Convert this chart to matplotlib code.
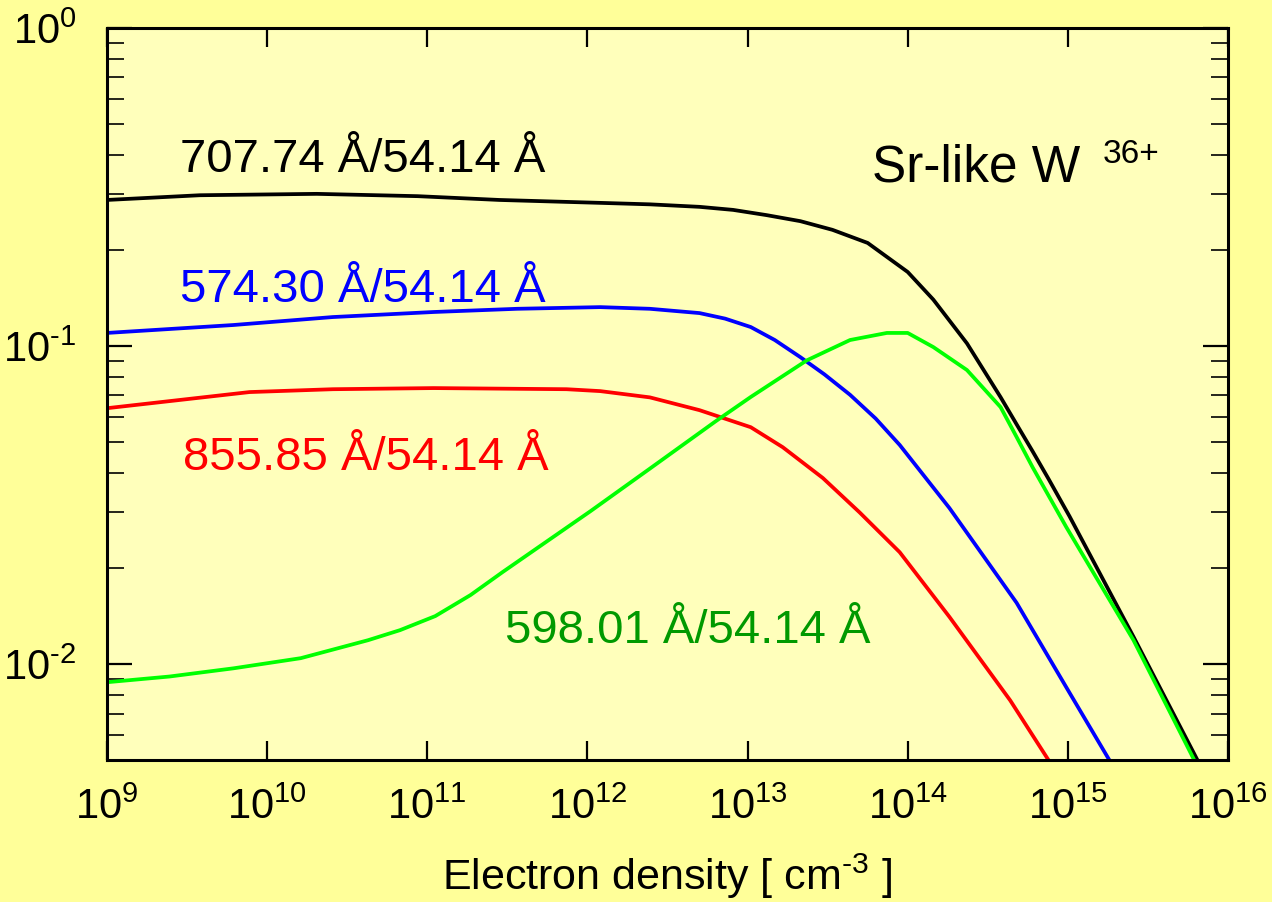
import matplotlib
matplotlib.use("Agg")
import matplotlib.pyplot as plt
import numpy as np
from matplotlib.ticker import FixedLocator, FuncFormatter, NullFormatter, NullLocator

plt.rcParams["font.family"] = ["Liberation Sans", "DejaVu Sans"]
plt.rcParams["mathtext.fontset"] = "custom"
plt.rcParams["mathtext.rm"] = "Liberation Sans"
plt.rcParams["mathtext.it"] = "Liberation Sans:italic"
plt.rcParams["mathtext.bf"] = "Liberation Sans:bold"

# log10 of electron density [cm^-3] and line-intensity ratios
black_logne = [9.00, 9.58, 10.31, 10.94, 11.45, 12.08, 12.39, 12.70, 12.91, 13.12, 13.33,
               13.53, 13.75, 14.00, 14.16, 14.37, 14.58, 14.70, 14.78, 14.88, 15.01, 15.41, 15.81]
black_ratio = [0.288, 0.298, 0.301, 0.296, 0.288, 0.282, 0.279, 0.274, 0.268, 0.258, 0.247,
               0.232, 0.211, 0.171, 0.140, 0.102, 0.0691, 0.0546, 0.0467, 0.0382, 0.0292, 0.0122, 0.00499]

blue_logne = [9.00, 9.79, 10.41, 11.04, 11.56, 12.08, 12.39, 12.70, 12.86, 13.02, 13.17,
              13.33, 13.48, 13.64, 13.80, 13.95, 14.26, 14.68, 14.99, 15.26]
blue_ratio = [0.110, 0.1165, 0.1234, 0.128, 0.131, 0.1326, 0.131, 0.127, 0.122, 0.1148, 0.1045,
              0.0923, 0.0815, 0.0703, 0.0592, 0.0489, 0.0310, 0.0156, 0.00847, 0.00499]

red_logne = [9.00, 9.89, 10.41, 11.04, 11.87, 12.08, 12.39, 12.70, 13.02, 13.22, 13.47,
             13.70, 13.95, 14.26, 14.64, 14.88]
red_ratio = [0.0638, 0.0717, 0.0732, 0.0738, 0.0732, 0.0722, 0.0690, 0.0629, 0.0556, 0.0481, 0.0385,
             0.0300, 0.0225, 0.0141, 0.0077, 0.00499]

green_logne = [9.00, 9.39, 9.79, 10.21, 10.63, 10.83, 11.05, 11.27, 11.47, 11.74, 12.02,
               12.39, 12.80, 13.02, 13.37, 13.64, 13.87, 14.00, 14.16, 14.37, 14.58, 14.68,
               14.78, 14.99, 15.41, 15.79]
green_ratio = [0.00878, 0.00915, 0.00971, 0.01045, 0.0119, 0.0128, 0.01417, 0.0165, 0.01948, 0.0242, 0.0303,
               0.0412, 0.0580, 0.0692, 0.0902, 0.1045, 0.110, 0.110, 0.0993, 0.0841, 0.0643, 0.0518,
               0.0416, 0.0270, 0.0119, 0.00499]

series = [
    (black_logne, black_ratio, "black", "707.74 Å/54.14 Å", "black", (0.065, 0.803)),
    (blue_logne, blue_ratio, "#0000FF", "574.30 Å/54.14 Å", "#0000FF", (0.065, 0.626)),
    (red_logne, red_ratio, "#FF0000", "855.85 Å/54.14 Å", "#FF0000", (0.068, 0.396)),
    (green_logne, green_ratio, "#00FF00", "598.01 Å/54.14 Å", "#009900", (0.355, 0.160)),
]

x_decades = [9, 10, 11, 12, 13, 14, 15, 16]
y_decades = [-2, -1, 0]


def power_label(value, pos):
    return r"$10^{\text{%d}}$" % int(round(np.log10(value)))


fig = plt.figure(figsize=(12.72, 9.02), dpi=100, facecolor="#FFFF99")
ax = fig.add_axes([0.0841, 0.1574, 0.8813, 0.8116])
ax.set_facecolor("#FFFFBB")

for logne, ratio, color, label, text_color, pos in series:
    ax.plot(10 ** np.array(logne), ratio, color=color, linewidth=2.7,
            solid_joinstyle="round")
    ax.text(pos[0], pos[1], label, color=text_color, fontsize=34,
            transform=ax.transAxes, va="baseline", ha="left")

ax.text(0.682, 0.790, "Sr-like W", fontsize=37, transform=ax.transAxes, va="baseline")
ax.text(0.888, 0.816, "36+", fontsize=24, transform=ax.transAxes, va="baseline")

ax.set_xscale("log")
ax.set_yscale("log")
ax.set_xlim(1e9, 1e16)
ax.set_ylim(0.005, 1.0)

ax.xaxis.set_major_locator(FixedLocator([10.0 ** d for d in x_decades]))
ax.xaxis.set_minor_locator(NullLocator())
ax.xaxis.set_major_formatter(FuncFormatter(power_label))
ax.yaxis.set_major_locator(FixedLocator([10.0 ** d for d in y_decades]))
minor_y = [k * 10.0 ** d for d in [-3, -2, -1] for k in range(2, 10) if k * 10.0 ** d >= 0.005]
ax.yaxis.set_minor_locator(FixedLocator(minor_y))
ax.yaxis.set_major_formatter(FuncFormatter(power_label))
ax.yaxis.set_minor_formatter(NullFormatter())

ax.tick_params(axis="x", which="major", direction="in", top=True, bottom=True,
               length=14, width=1.6, labelsize=30, pad=20)
ax.tick_params(axis="y", which="major", direction="in", left=True, right=True,
               length=18, width=1.6, labelsize=30, pad=22)
ax.tick_params(axis="y", which="minor", direction="in", left=True, right=True,
               length=12, width=1.2)

for spine in ax.spines.values():
    spine.set_linewidth(2.2)

ax.set_xlabel("Electron density [ cm$^{\\text{-3}}$ ]", fontsize=31, labelpad=17)

fig.savefig("out.png", dpi=100, facecolor=fig.get_facecolor())
